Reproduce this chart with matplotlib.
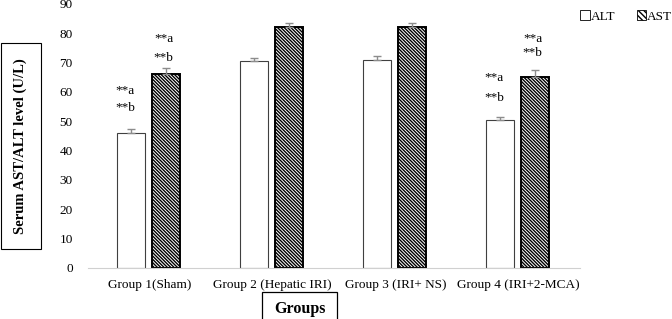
import matplotlib.pyplot as plt
import numpy as np
from matplotlib.patches import Patch, Rectangle

plt.rcParams['font.family'] = ['Liberation Serif', 'DejaVu Serif']
plt.rcParams['hatch.linewidth'] = 1.0

groups = ['Group 1(Sham)', 'Group 2 (Hepatic IRI)', 'Group 3 (IRI+ NS)', 'Group 4 (IRI+2-MCA)']
alt = [46, 70.5, 71, 50.5]
ast = [66, 82, 82, 65]
alt_err = [1.2, 1.2, 1.1, 0.8]
ast_err = [2.0, 1.6, 1.3, 2.6]
# significance marks (group index, series, label, y)
marks = [(0, 'alt', '**a', 60.3), (0, 'alt', '**b', 54.5),
         (0, 'ast', '**a', 78.0), (0, 'ast', '**b', 71.7),
         (3, 'alt', '**a', 64.8), (3, 'alt', '**b', 58.0),
         (3, 'ast', '**a', 78.0), (3, 'ast', '**b', 73.3)]

fig = plt.figure(figsize=(6.72, 3.19), dpi=100)
ax = fig.add_axes([0.131, 0.16, 0.732, 0.828])

x = np.arange(len(groups)) + 0.5
w = 0.225
off_alt = -0.15
off_ast = 0.135

ekw = dict(ecolor='#8c8c8c', capsize=3, elinewidth=1, capthick=1)
ax.bar(x + off_alt, alt, w, color='white', edgecolor='#404040', linewidth=0.8,
       yerr=[[0] * 4, alt_err], error_kw=ekw)
ax.bar(x + off_ast, ast, w, color='white', edgecolor='black', linewidth=1.4,
       hatch='\\' * 10, yerr=[[0] * 4, ast_err], error_kw=ekw)

for g, s, lab, yv in marks:
    xc = x[g] + (off_alt - 0.05 if s == 'alt' else off_ast - 0.02)
    ax.text(xc, yv, lab, ha='center', va='center', fontsize=9.5)

ax.set_xlim(0, 4)
ax.set_ylim(0, 90)
ax.set_yticks(range(0, 91, 10))
ax.set_xticks(x)
ax.set_xticklabels(groups)
ax.tick_params(axis='both', length=0, labelsize=9.5)
ax.tick_params(axis='x', pad=8)
ax.tick_params(axis='y', pad=11)
for s in ['top', 'right', 'left']:
    ax.spines[s].set_visible(False)
ax.spines['bottom'].set_color('#d0d0d0')

fig.patches.append(Rectangle((0.0015, 1 - 249 / 319), 40 / 672, 206 / 319, transform=fig.transFigure,
                             facecolor='white', edgecolor='black', linewidth=0.8))
fig.text(20.5 / 672, 1 - 146 / 319, 'Serum AST/ALT level (U/L)', rotation=90, ha='center', va='center',
         fontsize=10.5, fontweight='bold')
fig.patches.append(Rectangle((262 / 672, -0.05), 75 / 672, 0.05 + 27 / 319, transform=fig.transFigure,
                             facecolor='white', edgecolor='black', linewidth=0.9))
fig.text(299.5 / 672, 1 - 309 / 319, 'Groups', ha='center', va='center', fontsize=11.5, fontweight='bold')

handles = [Patch(facecolor='white', edgecolor='black', linewidth=0.6, label='ALT'),
           Patch(facecolor='white', edgecolor='black', linewidth=0.6, hatch='\\' * 6, label='AST')]
fig.legend(handles=handles, loc='upper right', bbox_to_anchor=(1.018, 1.005), ncol=2, frameon=False,
           fontsize=9.5, handlelength=0.7, handleheight=0.7, handletextpad=0.1, columnspacing=1.6)

fig.savefig('out.png', dpi=100)
